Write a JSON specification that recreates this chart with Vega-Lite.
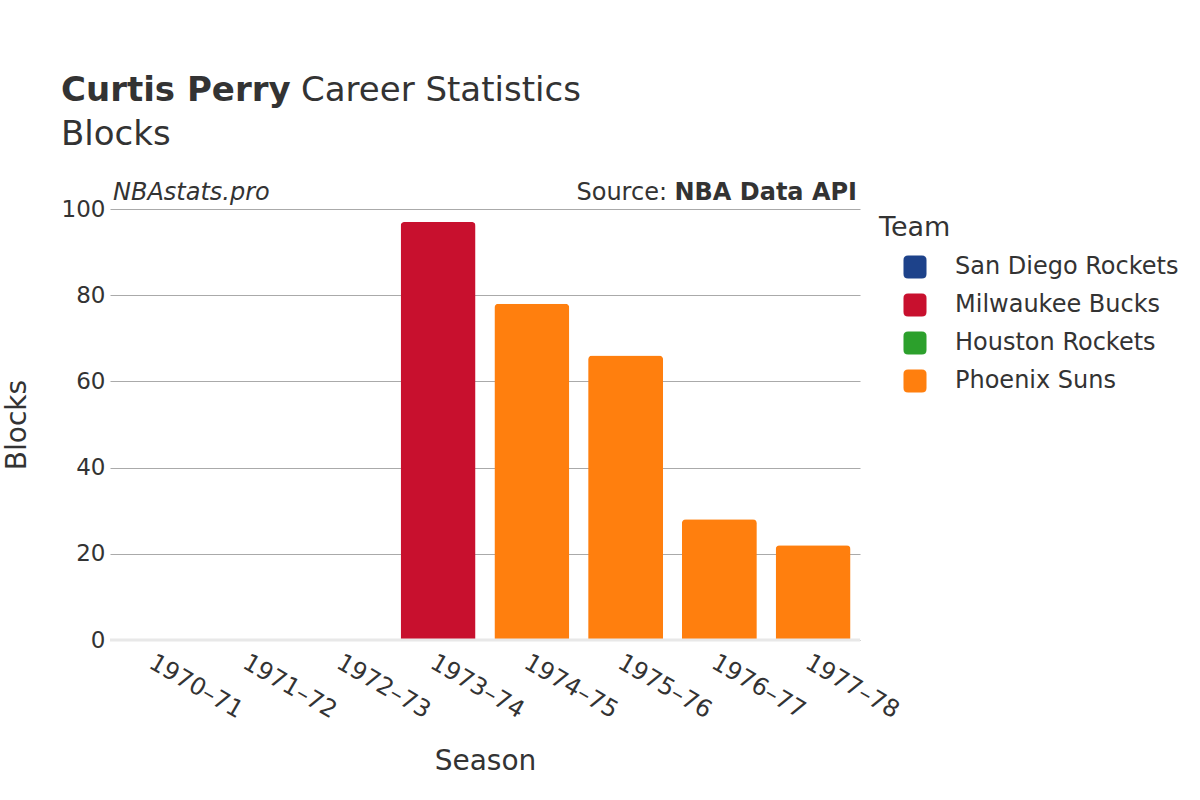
{
  "$schema": "https://vega.github.io/schema/vega-lite/v6.json",
  "width": 750,
  "height": 431,
  "autosize": {"type": "none"},
  "padding": {"left": 110, "top": 209, "right": 340, "bottom": 160},
  "background": "white",
  "config": {
    "font": "DejaVu Sans",
    "view": {"stroke": null},
    "axis": {"labelColor": "#333", "titleColor": "#333", "titleFontWeight": "normal"},
    "legend": {"labelColor": "#333", "titleColor": "#333", "titleFontWeight": "normal"}
  },
  "title": {
    "text": "Curtis Perry",
    "subtitle": "Blocks",
    "anchor": "start",
    "frame": "group",
    "dx": -49,
    "fontSize": 34,
    "fontWeight": "bold",
    "color": "#333",
    "subtitleFontSize": 34,
    "subtitleColor": "#333",
    "subtitlePadding": 10,
    "offset": -78
  },
  "datasets": {
    "stats": [
      {"Season": "1970–71", "Team": "San Diego Rockets", "Blocks": 0},
      {"Season": "1971–72", "Team": "Houston Rockets", "Blocks": 0},
      {"Season": "1971–72", "Team": "Milwaukee Bucks", "Blocks": 0},
      {"Season": "1972–73", "Team": "Milwaukee Bucks", "Blocks": 0},
      {"Season": "1973–74", "Team": "Milwaukee Bucks", "Blocks": 97},
      {"Season": "1974–75", "Team": "Phoenix Suns", "Blocks": 78},
      {"Season": "1975–76", "Team": "Phoenix Suns", "Blocks": 66},
      {"Season": "1976–77", "Team": "Phoenix Suns", "Blocks": 28},
      {"Season": "1977–78", "Team": "Phoenix Suns", "Blocks": 22}
    ],
    "notes": [
      {"label": "Career Statistics"}
    ],
    "site": [
      {"label": "NBAstats.pro"}
    ],
    "src1": [
      {"label": "Source:"}
    ],
    "src2": [
      {"label": "NBA Data API"}
    ]
  },
  "layer": [
    {
      "data": {"name": "stats"},
      "mark": {"type": "bar", "cornerRadiusTopLeft": 4, "cornerRadiusTopRight": 4},
      "encoding": {
        "x": {
          "field": "Season",
          "type": "ordinal",
          "sort": null,
          "scale": {"paddingInner": 0.2, "paddingOuter": 0.1},
          "axis": {
            "title": "Season",
            "titleFontSize": 28,
            "titlePadding": 25,
            "labelFontSize": 24,
            "labelAngle": 30,
            "labelAlign": "left",
            "labelBaseline": "top",
            "labelPadding": 10,
            "ticks": false,
            "domain": false,
            "grid": false
          }
        },
        "y": {
          "field": "Blocks",
          "type": "quantitative",
          "stack": "zero",
          "scale": {"domain": [0, 100]},
          "axis": {
            "title": "Blocks",
            "titleFontSize": 28,
            "titlePadding": 30,
            "labelFontSize": 23,
            "labelPadding": 5,
            "values": [0, 20, 40, 60, 80, 100],
            "ticks": false,
            "domain": false,
            "grid": true,
            "gridColor": "#aaa",
            "gridWidth": 1
          }
        },
        "color": {
          "field": "Team",
          "type": "nominal",
          "scale": {
            "domain": ["San Diego Rockets", "Milwaukee Bucks", "Houston Rockets", "Phoenix Suns"],
            "range": ["#1d428a", "#c8102e", "#2ca02c", "#ff7f0e"]
          },
          "legend": {
            "title": "Team",
            "orient": "right",
            "offset": 13,
            "padding": 6,
            "titleFontSize": 27,
            "titlePadding": 13,
            "labelFontSize": 24,
            "labelLimit": 400,
            "symbolType": "M-0.6,-1H0.6Q1,-1 1,-0.6V0.6Q1,1 0.6,1H-0.6Q-1,1 -1,0.6V-0.6Q-1,-1 -0.6,-1Z",
            "symbolSize": 530,
            "symbolStrokeWidth": 0,
            "symbolOffset": 24,
            "labelOffset": 28,
            "rowPadding": 14
          }
        }
      }
    },
    {
      "data": {"values": [{"z": 0}]},
      "mark": {"type": "rule", "color": "#e8e8e8", "strokeWidth": 3},
      "encoding": {"y": {"field": "z", "type": "quantitative"}}
    },
    {
      "data": {"name": "notes"},
      "mark": {"type": "text", "align": "left", "baseline": "alphabetic", "fontSize": 34, "color": "#333"},
      "encoding": {"text": {"field": "label"}, "x": {"value": 191}, "y": {"value": -108}}
    },
    {
      "data": {"name": "site"},
      "mark": {"type": "text", "align": "left", "baseline": "alphabetic", "fontSize": 24, "fontStyle": "italic", "color": "#333"},
      "encoding": {"text": {"field": "label"}, "x": {"value": 3}, "y": {"value": -9}}
    },
    {
      "data": {"name": "src2"},
      "mark": {"type": "text", "align": "right", "baseline": "alphabetic", "fontSize": 24, "fontWeight": "bold", "color": "#333"},
      "encoding": {"text": {"field": "label"}, "x": {"value": 747}, "y": {"value": -9}}
    },
    {
      "data": {"name": "src1"},
      "mark": {"type": "text", "align": "right", "baseline": "alphabetic", "fontSize": 24, "color": "#333"},
      "encoding": {"text": {"field": "label"}, "x": {"value": 557}, "y": {"value": -9}}
    }
  ]
}
